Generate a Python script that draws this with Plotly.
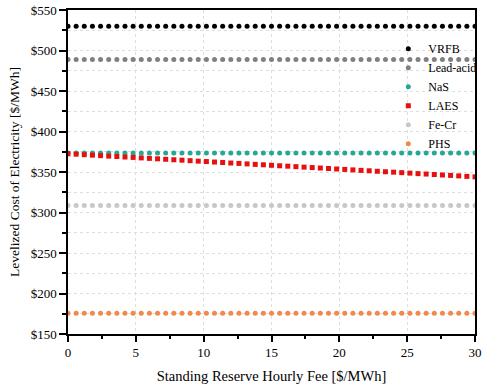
import plotly.graph_objects as go

fee = [round(i * 0.6, 1) for i in range(51)]

vrfb = [530.0] * 51
lead_acid = [489.0] * 51
nas = [373.5] * 51
laes = [372.5, 372.0, 371.4, 370.8, 370.2, 369.6, 369.1, 368.5, 368.0, 367.4,
        366.8, 366.3, 365.7, 365.1, 364.6, 364.0, 363.4, 362.9, 362.3, 361.7,
        361.1, 360.6, 360.0, 359.4, 358.9, 358.3, 357.7, 357.2, 356.6, 356.0,
        355.5, 354.9, 354.3, 353.7, 353.2, 352.6, 352.0, 351.5, 350.9, 350.3,
        349.8, 349.2, 348.6, 348.0, 347.5, 346.9, 346.3, 345.8, 345.2, 344.6, 344.0]
fe_cr = [308.5] * 51
phs = [175.5] * 51

series = [
    ("VRFB", vrfb, "#000000", "circle", 5),
    ("Lead-acid", lead_acid, "#808080", "circle", 5),
    ("NaS", nas, "#25a995", "circle", 5),
    ("LAES", laes, "#e8100f", "square", 5),
    ("Fe-Cr", fe_cr, "#c8c8c8", "circle", 5),
    ("PHS", phs, "#f0894a", "circle", 5),
]

font_family = "Liberation Serif"
grid_col = "#dedede"

fig = go.Figure()
for name, vals, color, sym, size in series:
    fig.add_trace(go.Scatter(
        x=fee, y=vals, mode="markers", name=name,
        marker=dict(color=color, symbol=sym, size=size, line=dict(width=0)),
    ))

fig.update_layout(
    width=491, height=389,
    margin=dict(l=68, r=12, t=10, b=55),
    paper_bgcolor="white", plot_bgcolor="white",
    font=dict(family=font_family, size=13, color="#000000"),
    showlegend=True,
    legend=dict(x=0.787, y=0.925, xanchor="left", yanchor="top",
                bgcolor="rgba(0,0,0,0)", font=dict(size=12),
                tracegroupgap=0),
)
fig.update_xaxes(
    range=[0, 30], dtick=5, tick0=0, automargin=False,
    showline=True, linecolor="black", linewidth=1.5, mirror=True,
    ticks="outside", ticklen=6, tickcolor="black", tickwidth=1.5,
    showgrid=True, gridcolor=grid_col, griddash="3px,3px", gridwidth=1,
    zeroline=False,
    minor=dict(dtick=2.5, ticks="outside", ticklen=3, tickcolor="black", showgrid=False),
    title=dict(text="Standing Reserve Hourly Fee [$/MWh]", font=dict(size=14.5), standoff=12),
)
fig.update_yaxes(
    range=[150, 550], dtick=50, tick0=150, tickprefix="$", automargin=False,
    showline=True, linecolor="black", linewidth=1.5, mirror=True,
    ticks="outside", ticklen=7, tickcolor="black", tickwidth=1.5,
    showgrid=True, gridcolor=grid_col, griddash="3px,3px", gridwidth=1,
    zeroline=False,
    minor=dict(dtick=25, ticks="outside", ticklen=4, tickcolor="black",
               showgrid=True, gridcolor=grid_col, griddash="3px,3px", gridwidth=1),
    title=dict(text="Levelized Cost of Electricity [$/MWh]", font=dict(size=13.5), standoff=8),
)

fig.write_html("out.html", config={"displayModeBar": False},
               post_script="document.body.style.margin='0';")
